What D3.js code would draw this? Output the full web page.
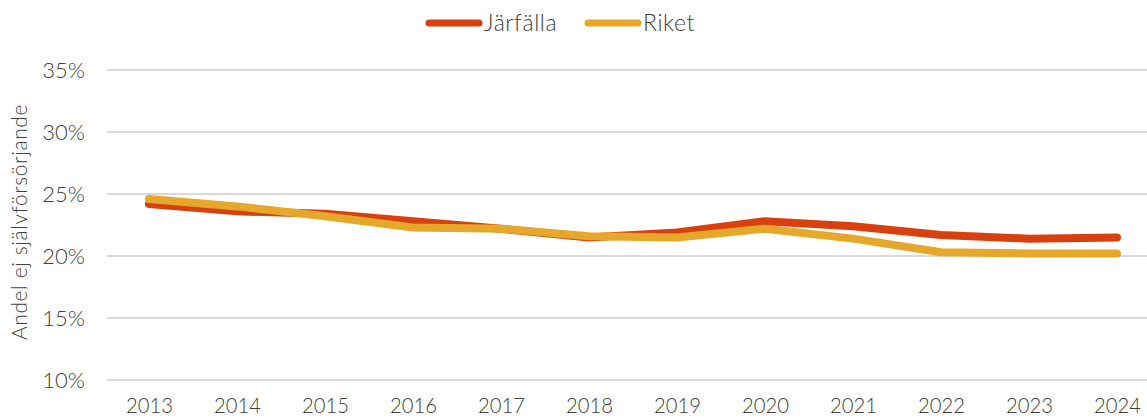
<!DOCTYPE html>
<html>
<head>
<meta charset="utf-8">
<script src="https://cdn.jsdelivr.net/npm/d3@7"></script>
<style>
  html, body { margin: 0; padding: 0; background: #fff; }
  svg { display: block; }
  text { font-family: "Lato", "Open Sans", sans-serif; fill: #404040; }
</style>
</head>
<body>
<svg id="chart" width="1147" height="420"></svg>
<script>
// Share of population not self-supporting, Järfälla vs. Sweden
const years = ["2013","2014","2015","2016","2017","2018","2019","2020","2021","2022","2023","2024"];
const jarfalla = [24.2, 23.6, 23.4, 22.8, 22.2, 21.5, 21.9, 22.8, 22.4, 21.7, 21.4, 21.5];
const riket    = [24.6, 24.0, 23.2, 22.3, 22.2, 21.6, 21.5, 22.2, 21.4, 20.3, 20.2, 20.2];
const yTicks = [10, 15, 20, 25, 30, 35];
const seriesNames = ["Järfälla", "Riket"];
const seriesColors = ["#D9400F", "#E6A82A"];
const yTitle = "Andel ej självförsörjande";

const svg = d3.select("#chart");
const W = 1147, H = 420;
const plot = { left: 105, right: 1161, top: 70, bottom: 380 };

const x = d3.scalePoint().domain(years).range([plot.left, plot.right]).padding(0.5);
const y = d3.scaleLinear().domain([10, 35]).range([plot.bottom, plot.top]);

// Horizontal gridlines
svg.append("g").selectAll("line").data(yTicks).join("line")
  .attr("x1", plot.left + 2).attr("x2", W)
  .attr("y1", d => y(d)).attr("y2", d => y(d))
  .attr("stroke", "#D9D9D9").attr("stroke-width", 2);

// Y tick labels
const yAxis = d3.axisLeft(y).tickValues(yTicks).tickFormat(d => d + "%").tickSize(0).tickPadding(0);
const gy = svg.append("g").attr("transform", `translate(85,0)`).call(yAxis);
gy.select(".domain").remove();
gy.selectAll("text").attr("font-size", 22).attr("font-weight", 300)
  .attr("fill", "#404040").style("font-family", "Lato, sans-serif");

// X tick labels (slightly condensed)
const xAxis = d3.axisBottom(x).tickSize(0).tickPadding(0);
const gx = svg.append("g").attr("transform", `translate(0,397)`).call(xAxis);
gx.select(".domain").remove();
gx.selectAll("text").attr("font-size", 22).attr("font-weight", 300)
  .attr("fill", "#404040").style("font-family", "Lato, sans-serif")
  .attr("transform", "scale(0.92,1)");

// Y axis title
svg.append("text")
  .attr("transform", "translate(27,222) rotate(-90)")
  .attr("text-anchor", "middle")
  .attr("font-size", 21).attr("font-weight", 300)
  .attr("letter-spacing", 0.6)
  .text(yTitle);

// Lines
const line = d3.line().x((d, i) => x(years[i])).y(d => y(d));
[jarfalla, riket].forEach((vals, k) => {
  svg.append("path")
    .datum(vals)
    .attr("d", line)
    .attr("fill", "none")
    .attr("stroke", seriesColors[k])
    .attr("stroke-width", 8)
    .attr("stroke-linecap", "round")
    .attr("stroke-linejoin", "round");
});

// Legend
const legendItems = [
  { name: seriesNames[0], color: seriesColors[0], x: 426 },
  { name: seriesNames[1], color: seriesColors[1], x: 585 }
];
const lg = svg.append("g");
legendItems.forEach(it => {
  lg.append("line")
    .attr("x1", it.x + 3).attr("x2", it.x + 53)
    .attr("y1", 23).attr("y2", 23)
    .attr("stroke", it.color).attr("stroke-width", 7).attr("stroke-linecap", "round");
  lg.append("text")
    .attr("x", it.x + 58).attr("y", 31)
    .attr("font-size", 23).attr("font-weight", 300)
    .attr("letter-spacing", 0.6)
    .text(it.name);
});
</script>
</body>
</html>
